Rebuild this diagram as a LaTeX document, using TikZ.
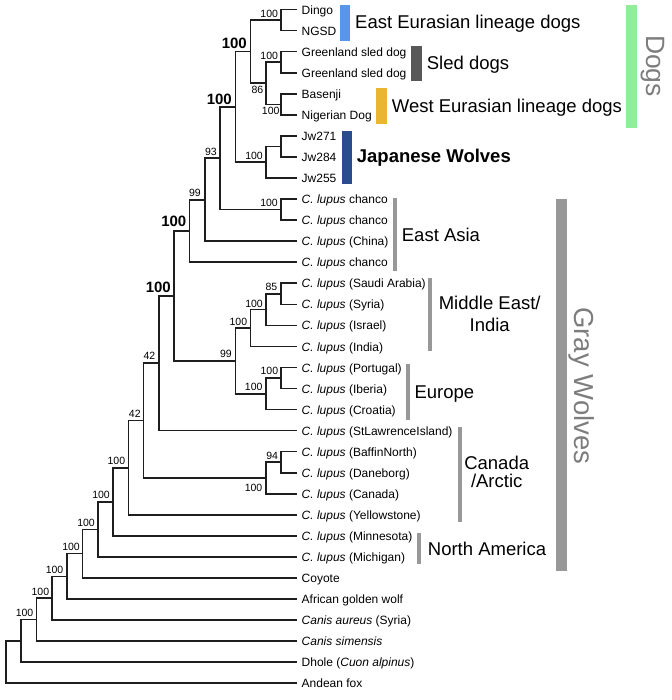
\documentclass[tikz,border=0pt]{standalone}
\usepackage{fontspec}
\setmainfont{Liberation Sans}
\definecolor{treec}{RGB}{30,30,30}
\definecolor{grayb}{RGB}{152,152,152}
\definecolor{bigtext}{RGB}{125,125,125}
\definecolor{eblue}{RGB}{88,150,238}
\definecolor{sledg}{RGB}{88,88,88}
\definecolor{wgold}{RGB}{233,182,50}
\definecolor{jblue}{RGB}{43,76,140}
\definecolor{dgreen}{RGB}{144,238,152}
\begin{document}
\begin{tikzpicture}[x=1pt,y=-1pt,
  br/.style={draw=treec, line width=1.6pt},
  leaf/.style={anchor=base west, inner sep=0pt, font=\fontsize{12}{14}\selectfont},
  bsv/.style={anchor=base east, inner sep=0pt, font=\fontsize{10.5}{12}\selectfont},
  bsbold/.style={anchor=base east, inner sep=0pt, font=\fontsize{15}{17}\selectfont\bfseries},
  grp/.style={anchor=base west, inner sep=0pt, font=\fontsize{18.5}{21.3}\selectfont},
  grptwo/.style={anchor=center, align=center, inner sep=0pt},
  bigrot/.style={rotate=-90, inner sep=0pt, text=bigtext},
]
\useasboundingbox (0,0) rectangle (671,700);

% leaf tips
\foreach \i in {0,...,32} \coordinate (L\i) at (296.5, 9.6+21.05*\i);

% internal nodes
\coordinate (nDi) at (281.22, 20.125);
\coordinate (nGr) at (281.22, 62.225);
\coordinate (nWe) at (281.22, 104.325);
\coordinate (n86) at (265.93, 83.275);
\coordinate (nDo) at (250.64, 51.7);
\coordinate (nJ12) at (281.22, 146.425);
\coordinate (nJw) at (265.93, 162.21);
\coordinate (nDJ) at (235.35, 106.96);
\coordinate (nCh) at (281.22, 209.575);
\coordinate (n93) at (220.06, 158.27);
\coordinate (n99) at (204.77, 199.71);
\coordinate (nA1) at (189.48, 230.95);
\coordinate (n85) at (281.22, 293.775);
\coordinate (nSSI) at (265.93, 309.56);
\coordinate (nME) at (250.64, 327.98);
\coordinate (nPI) at (281.22, 377.975);
\coordinate (nEU) at (265.93, 393.76);
\coordinate (nMEE) at (235.35, 360.87);
\coordinate (nB1) at (174.19, 295.91);
\coordinate (n42a) at (158.9, 363.26);
\coordinate (n94) at (281.22, 462.175);
\coordinate (nCan) at (265.93, 477.96);
\coordinate (n42b) at (143.61, 420.61);
\coordinate (nH) at (128.32, 467.7);
\coordinate (nG) at (113.03, 501.78);
\coordinate (nF) at (97.74, 529.34);
\coordinate (nE) at (82.45, 553.64);
\coordinate (nD) at (67.16, 576.32);
\coordinate (nC) at (51.87, 598.19);
\coordinate (nB) at (36.58, 619.64);
\coordinate (nA) at (21.29, 640.9);
\coordinate (nR) at (6.0, 662.05);

% branches
\foreach \p/\c in {nR/L32, nR/nA, nA/L31, nA/nB, nB/L30, nB/nC, nC/L29, nC/nD,
  nD/L28, nD/nE, nE/L27, nE/nF, nF/L26, nF/nG, nG/L25, nG/nH, nH/L24, nH/n42b,
  n42b/n42a, n42b/nCan, nCan/n94, nCan/L23, n94/L21, n94/L22, n42a/nB1, n42a/L20,
  nB1/nA1, nB1/nMEE, nMEE/nME, nMEE/nEU, nEU/nPI, nEU/L19, nPI/L17, nPI/L18,
  nME/nSSI, nME/L16, nSSI/n85, nSSI/L15, n85/L13, n85/L14, nA1/n99, nA1/L12,
  n99/n93, n99/L11, n93/nDJ, n93/nCh, nCh/L9, nCh/L10, nDJ/nDo, nDJ/nJw,
  nJw/nJ12, nJw/L8, nJ12/L6, nJ12/L7, nDo/nDi, nDo/n86, n86/nGr, n86/nWe,
  nDi/L0, nDi/L1, nGr/L2, nGr/L3, nWe/L4, nWe/L5}
  \draw[br] (\p) |- (\c);

% leaf labels
\node[leaf] (T0) at (301.5, 14.2) {Dingo};
\node[leaf] (T1) at (301.5, 35.25) {NGSD};
\node[leaf] (T2) at (301.5, 56.3) {Greenland sled dog};
\node[leaf] (T3) at (301.5, 77.35) {Greenland sled dog};
\node[leaf] (T4) at (301.5, 98.4) {Basenji};
\node[leaf] (T5) at (301.5, 119.45) {Nigerian Dog};
\node[leaf] (T6) at (301.5, 140.5) {Jw271};
\node[leaf] (T7) at (301.5, 161.55) {Jw284};
\node[leaf] (T8) at (301.5, 182.6) {Jw255};
\node[leaf] (T9) at (301.5, 203.65) {\textit{C. lupus} chanco};
\node[leaf] (T10) at (301.5, 224.7) {\textit{C. lupus} chanco};
\node[leaf] (T11) at (301.5, 245.75) {\textit{C. lupus} (China)};
\node[leaf] (T12) at (301.5, 266.8) {\textit{C. lupus} chanco};
\node[leaf] (T13) at (301.5, 287.85) {\textit{C. lupus} (Saudi Arabia)};
\node[leaf] (T14) at (301.5, 308.9) {\textit{C. lupus} (Syria)};
\node[leaf] (T15) at (301.5, 329.95) {\textit{C. lupus} (Israel)};
\node[leaf] (T16) at (301.5, 351.0) {\textit{C. lupus} (India)};
\node[leaf] (T17) at (301.5, 372.05) {\textit{C. lupus} (Portugal)};
\node[leaf] (T18) at (301.5, 393.1) {\textit{C. lupus} (Iberia)};
\node[leaf] (T19) at (301.5, 414.15) {\textit{C. lupus} (Croatia)};
\node[leaf] (T20) at (301.5, 435.2) {\textit{C. lupus} (StLawrenceIsland)};
\node[leaf] (T21) at (301.5, 456.25) {\textit{C. lupus} (BaffinNorth)};
\node[leaf] (T22) at (301.5, 477.3) {\textit{C. lupus} (Daneborg)};
\node[leaf] (T23) at (301.5, 498.35) {\textit{C. lupus} (Canada)};
\node[leaf] (T24) at (301.5, 519.4) {\textit{C. lupus} (Yellowstone)};
\node[leaf] (T25) at (301.5, 540.45) {\textit{C. lupus} (Minnesota)};
\node[leaf] (T26) at (301.5, 561.5) {\textit{C. lupus} (Michigan)};
\node[leaf] (T27) at (301.5, 582.55) {Coyote};
\node[leaf] (T28) at (301.5, 603.6) {African golden wolf};
\node[leaf] (T29) at (301.5, 624.65) {\textit{Canis aureus} (Syria)};
\node[leaf] (T30) at (301.5, 645.7) {\textit{Canis simensis}};
\node[leaf] (T31) at (301.5, 666.75) {Dhole (\textit{Cuon alpinus})};
\node[leaf] (T32) at (301.5, 687.8) {Andean fox};

% support values
\node[bsv] (sDi) at (278.2, 17.1) {100};
\node[bsv] (sGr) at (278.2, 59.2) {100};
\node[bsv] (sWe) at (279.7, 115.0) {100};
\node[bsv] (s86) at (263.5, 94.0) {86};
\node[bsbold] (sDo) at (247.0, 48.3) {100};
\node[bsv] (sJw) at (263.0, 159.2) {100};
\node[bsbold] (sDJ) at (232.0, 104.5) {100};
\node[bsv] (sCh) at (278.0, 206.6) {100};
\node[bsv] (s93) at (217.0, 155.2) {93};
\node[bsv] (s99) at (201.0, 197.0) {99};
\node[bsbold] (sA1) at (186.5, 227.0) {100};
\node[bsv] (s85) at (277.5, 290.8) {85};
\node[bsv] (sSSI) at (263.0, 307.0) {100};
\node[bsv] (sME) at (247.3, 325.0) {100};
\node[bsv] (sPI) at (278.3, 374.5) {100};
\node[bsv] (sEU) at (262.7, 390.7) {100};
\node[bsv] (sMEE) at (232.0, 357.5) {99};
\node[bsbold] (sB1) at (171.0, 292.0) {100};
\node[bsv] (s42a) at (155.5, 359.8) {42};
\node[bsv] (s94) at (278.2, 459.2) {94};
\node[bsv] (sCan) at (262.5, 491.7) {100};
\node[bsv] (s42b) at (140.8, 417.3) {42};
\node[bsv] (sH) at (125.3, 464.7) {100};
\node[bsv] (sG) at (110.0, 498.5) {100};
\node[bsv] (sF) at (95.0, 526.5) {100};
\node[bsv] (sE) at (80.0, 550.0) {100};
\node[bsv] (sD) at (63.5, 573.6) {100};
\node[bsv] (sC) at (49.3, 595.2) {100};
\node[bsv] (sB) at (33.5, 616.6) {100};

% coloured bars
\fill[eblue] (339.5,5) rectangle (349.5,40.7);
\fill[sledg] (411,46) rectangle (421.5,80.7);
\fill[wgold] (376,88.3) rectangle (386.5,124);
\fill[jblue] (341.7,131) rectangle (352.3,184);
\fill[dgreen] (626,5) rectangle (636.8,128.3);
% gray bars
\fill[grayb] (556,199.3) rectangle (566.7,570.7);
\fill[grayb] (392.7,198.3) rectangle (396.7,270.7);
\fill[grayb] (427.7,278.3) rectangle (431.7,350.7);
\fill[grayb] (406,364.3) rectangle (410,420);
\fill[grayb] (457.7,426.7) rectangle (461.7,521.7);
\fill[grayb] (417.3,532.7) rectangle (421.3,564);

% group labels
\node[grp] (gEE) at (355,29) {East Eurasian lineage dogs};
\node[grp] (gSD) at (426.7,70) {Sled dogs};
\node[grp] (gWE) at (391.7,112.3) {West Eurasian lineage dogs};
\node[grp, font=\fontsize{18.5}{21.3}\selectfont\bfseries] (gJW) at (356.7,162.5) {Japanese Wolves};
\node[grp] (gEA) at (401.7,241.7) {East Asia};
\node[grptwo, font=\fontsize{18.5}{21.3}\selectfont] (gME) at (489.7,313.9) {Middle East/\\India};
\node[grp] (gEu) at (414.3,398.3) {Europe};
\node[grptwo, font=\fontsize{18.5}{17.6}\selectfont] (gCA) at (496.7,472) {Canada\\/Arctic};
\node[grp] (gNA) at (427.7,555.7) {North America};

\node[bigrot, font=\fontsize{26.5}{30}\selectfont] (gDogs) at (653,66) {Dogs};
\node[bigrot, font=\fontsize{27.5}{30}\selectfont] (gGW) at (581.7,385.8) {Gray Wolves};
\end{tikzpicture}
\end{document}
